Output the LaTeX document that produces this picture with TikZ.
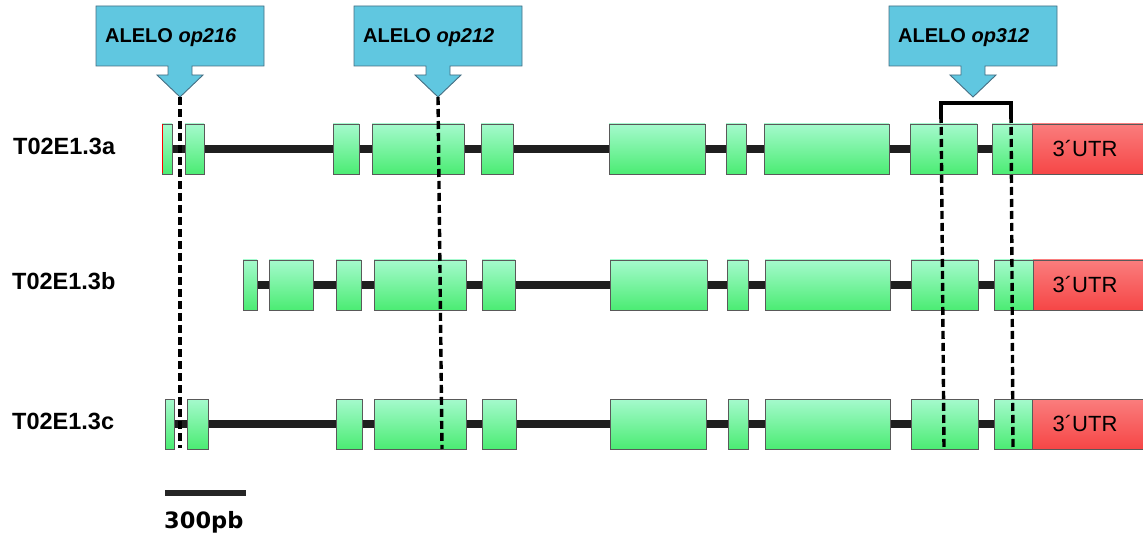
\documentclass[tikz,border=0pt]{standalone}
\usepackage{fontspec}
\setmainfont{Liberation Sans}
\newfontfamily\barfont{DejaVu Sans}
\usetikzlibrary{positioning}

\definecolor{exontop}{RGB}{165,250,205}
\definecolor{exonmid}{RGB}{25,240,65}
\definecolor{exonbot}{RGB}{75,236,115}
\definecolor{utrtop}{RGB}{250,125,125}
\definecolor{utrmid}{RGB}{245,25,25}
\definecolor{utrbot}{RGB}{246,70,70}
\definecolor{callblue}{RGB}{96,199,224}
\definecolor{callborder}{RGB}{70,110,130}

\begin{document}
\begin{tikzpicture}[x=1pt, y=-1pt, >=latex,
	exon/.style={draw=black!65, line width=0.9pt, top color=exontop, middle color=exonmid, bottom color=exonbot},
	utr/.style={draw=black!65, line width=0.9pt, top color=utrtop, middle color=utrmid, bottom color=utrbot},
	intron/.style={line width=8pt, black!88},
	callout/.style={draw=callborder, line width=0.9pt, fill=callblue},
	cut/.style={line width=3.4pt, dash pattern=on 8pt off 4pt},
	genename/.style={anchor=base west, inner sep=0pt, font=\bfseries\fontsize{23.5}{26}\selectfont},
	alelo/.style={anchor=base west, inner sep=0pt, font=\bfseries\fontsize{20}{22}\selectfont},
	utrtext/.style={inner sep=0pt, font=\fontsize{22}{24}\selectfont}]
			\useasboundingbox (0,0) rectangle (1143,537);
			%%% Nomi
			\node[genename] (nameA) at (13,155) {T02E1.3a};
			\node[genename] (nameB) at (12,290) {T02E1.3b};
			\node[genename] (nameC) at (12,429) {T02E1.3c};
			%%% Introni
			\draw[intron] (162,149) -- (1032,149);
			\draw[intron] (243,285) -- (1033,285);
			\draw[intron] (165,424) -- (1032,424);
			%%% Esoni
			\foreach \l/\r in {162/172, 185/204, 333/359, 372/464, 481/513, 609/705, 726/746, 764/889, 910/977, 992/1032}
				\draw[exon] (\l,124) rectangle (\r,174);
			\foreach \l/\r in {243/257, 269/313, 336/361, 374/466, 482/515, 610/707, 727/748, 765/890, 911/978, 994/1033}
				\draw[exon] (\l,260) rectangle (\r,310);
			\foreach \l/\r in {165/174, 187/208, 336/362, 374/466, 482/516, 610/706, 728/748, 765/890, 911/978, 994/1032}
				\draw[exon] (\l,399) rectangle (\r,449);
			\draw[red, line width=1pt] (162.5,124.5) -- (162.5,173.5);
			%%% UTR
			\draw[utr] (1032,124) rectangle (1143.5,174);
			\draw[utr] (1033,260) rectangle (1143.5,310);
			\draw[utr] (1032,399) rectangle (1143.5,449);
			\node[utrtext] (utrA) at (1085,149) {3´UTR};
			\node[utrtext] (utrB) at (1085,285) {3´UTR};
			\node[utrtext] (utrC) at (1085,424) {3´UTR};
			%%% Alleli
			\foreach \tx/\nm/\al in {180/a216/op216, 438/a212/op212, 973/a312/op312} {
				\begin{scope}[xshift=\tx pt]
					\draw[callout] (-84,6) -- (84,6) -- (84,66) -- (12,66) -- (12,75) -- (23,75) -- (0,97) -- (-23,75) -- (-12,75) -- (-12,66) -- (-84,66) -- cycle;
					\node[alelo] (\nm) at (-75,43) {ALELO \textit{\al}};
					\coordinate (\nm tip) at (0,97);
				\end{scope}
			}
			%%% Linee tratteggiate
			\coordinate (end216) at (180,448);
			\coordinate (end212) at (442,449);
			\coordinate (brL) at (941,103);
			\coordinate (brR) at (1011,103);
			\coordinate (endL) at (944,449);
			\coordinate (endR) at (1013,449);
			\draw[cut] (a216tip) -- (end216);
			\draw[cut] (a212tip) -- (end212);
			\draw[line width=3.2pt] (941,119) -- (brL) -- (brR) -- (1011,119);
			\draw[cut] (brL) -- (endL);
			\draw[cut] (brR) -- (endR);
			%%% Scala
			\coordinate (barL) at (165,493);
			\coordinate (barR) at (246,493);
			\draw[line width=6pt, black!85] (barL) -- (barR);
			\node[anchor=base west, inner sep=0pt, font=\barfont\bfseries\fontsize{22.5}{24}\selectfont] (barlbl) at (164,528) {300pb};
		\end{tikzpicture}
\end{document}
